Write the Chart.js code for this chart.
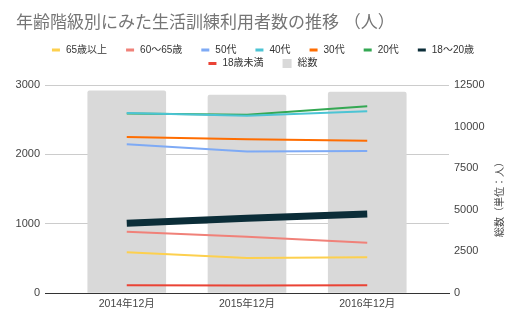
<!DOCTYPE html>
<html>
<head>
<meta charset="utf-8">
<script src="https://cdn.jsdelivr.net/npm/chart.js@4/dist/chart.umd.min.js"></script>
<style>
  html, body { margin: 0; padding: 0; background: #fff; }
  #wrap { width: 526px; height: 326px; }
</style>
</head>
<body>
<div id="wrap"><canvas id="chart"></canvas></div>
<script>
const FONT = "Arial, 'Liberation Sans', 'Noto Sans CJK JP', sans-serif";

// Data
const chartTitle = '年齢階級別にみた生活訓練利用者数の推移 （人）';
const rightTitle = '総数（単位：人）';
const categories = ['2014年12月', '2015年12月', '2016年12月'];
const over65 = [587, 505, 515];
const age60to65 = [884, 812, 726];
const age50s = [2145, 2040, 2048];
const age40s = [2596, 2556, 2620];
const age30s = [2250, 2217, 2195];
const age20s = [2590, 2570, 2693];
const age18to20 = [1005, 1077, 1139];
const under18 = [111, 108, 110];
const totals = [12150, 11900, 12080];
const leftTicks = [0, 1000, 2000, 3000];
const rightTicks = [0, 2500, 5000, 7500, 10000, 12500];

const seriesNames = ['65歳以上', '60〜65歳', '50代', '40代', '30代', '20代', '18〜20歳', '18歳未満'];
const seriesValues = [over65, age60to65, age50s, age40s, age30s, age20s, age18to20, under18];
const seriesColors = ['#fdd04e', '#f08179', '#7eaaf5', '#4cc4d4', '#ff6d01', '#34a853', '#0b2d38', '#ea4335'];
const seriesWidths = [2, 2, 2, 2, 2, 2, 7, 2];

const toPoints = vals => vals.map((v, i) => ({ x: i, y: v }));

const datasets = seriesNames.map((name, i) => ({
  type: 'line',
  label: name,
  data: toPoints(seriesValues[i]),
  borderColor: seriesColors[i],
  backgroundColor: seriesColors[i],
  borderWidth: seriesWidths[i],
  pointRadius: 0,
  tension: 0,
  fill: false,
  yAxisID: 'y',
  order: 0
}));
datasets.push({
  type: 'bar',
  label: '総数',
  data: toPoints(totals),
  backgroundColor: '#d9d9d9',
  barThickness: 78,
  borderRadius: { topLeft: 2, topRight: 2 },
  yAxisID: 'y1',
  order: 1
});

// title, legend rows and right axis title
const decor = {
  id: 'decor',
  afterDraw(chart) {
    const ctx = chart.ctx;
    ctx.save();
    ctx.textBaseline = 'middle';
    ctx.textAlign = 'left';
    ctx.font = `17px ${FONT}`;
    ctx.fillStyle = '#757575';
    ctx.fillText(chartTitle, 16, 23);

    ctx.font = `10px ${FONT}`;
    const items = chart.data.datasets.map(d => ({
      text: d.label,
      color: d.type === 'line' ? d.borderColor : d.backgroundColor,
      box: d.type !== 'line',
      w: (d.type === 'line' ? 8 : 9) + 6 + ctx.measureText(d.label).width
    }));
    const gap = 19, rows = [[]];
    let rowW = 0;
    items.forEach(it => {
      const add = rows[rows.length - 1].length ? gap + it.w : it.w;
      if (rowW + add > 470) { rows.push([it]); rowW = it.w; }
      else { rows[rows.length - 1].push(it); rowW += add; }
    });
    rows.forEach((row, r) => {
      const total = row.reduce((s, it) => s + it.w, 0) + gap * (row.length - 1);
      let x = 263 - total / 2;
      const cy = 50 + r * 13.5;
      row.forEach(it => {
        ctx.fillStyle = it.color;
        if (it.box) { ctx.fillRect(x, cy - 4.5, 9, 9); x += 9; }
        else { ctx.fillRect(x, cy - 1.5, 8, 3); x += 8; }
        ctx.fillStyle = '#333';
        ctx.fillText(it.text, x + 6, cy);
        x += it.w - (it.box ? 9 : 8) + gap;
      });
    });

    ctx.translate(500, 197);
    ctx.rotate(-Math.PI / 2);
    ctx.textAlign = 'center';
    ctx.fillStyle = '#444';
    ctx.font = `10px ${FONT}`;
    ctx.fillText(rightTitle, 0, 0);
    ctx.restore();
  }
};

new Chart(document.getElementById('chart'), {
  type: 'bar',
  data: { datasets },
  plugins: [decor],
  options: {
    responsive: true,
    maintainAspectRatio: false,
    animation: false,
    layout: { padding: { top: 85, left: 0, right: 0, bottom: 0 } },
    plugins: { legend: { display: false }, tooltip: { enabled: false } },
    scales: {
      x: {
        type: 'linear',
        offset: false,
        min: -0.68,
        max: 2.68,
        z: 1,
        afterBuildTicks: s => { s.ticks = categories.map((c, i) => ({ value: i })); },
        afterFit: s => { s.height = 33; },
        ticks: {
          callback: v => categories[v] ?? '',
          color: '#444',
          font: { family: FONT, size: 10.5 },
          padding: 5,
          autoSkip: false,
          maxRotation: 0
        },
        grid: { display: false, drawTicks: false },
        border: { display: true, color: '#333', width: 1 }
      },
      y: {
        position: 'left',
        min: leftTicks[0],
        max: leftTicks[leftTicks.length - 1],
        afterBuildTicks: s => { s.ticks = leftTicks.map(v => ({ value: v })); },
        afterFit: s => { s.width = 45; },
        ticks: { color: '#444', font: { family: FONT, size: 11 }, padding: 5, callback: v => String(v) },
        grid: { color: '#cccccc', drawTicks: false },
        border: { display: false }
      },
      y1: {
        position: 'right',
        min: rightTicks[0],
        max: rightTicks[rightTicks.length - 1],
        afterBuildTicks: s => { s.ticks = rightTicks.map(v => ({ value: v })); },
        afterFit: s => { s.width = 77; },
        ticks: { color: '#444', font: { family: FONT, size: 11 }, padding: 5, callback: v => String(v) },
        grid: { drawOnChartArea: false, drawTicks: false },
        border: { display: false }
      }
    }
  }
});
</script>
</body>
</html>
